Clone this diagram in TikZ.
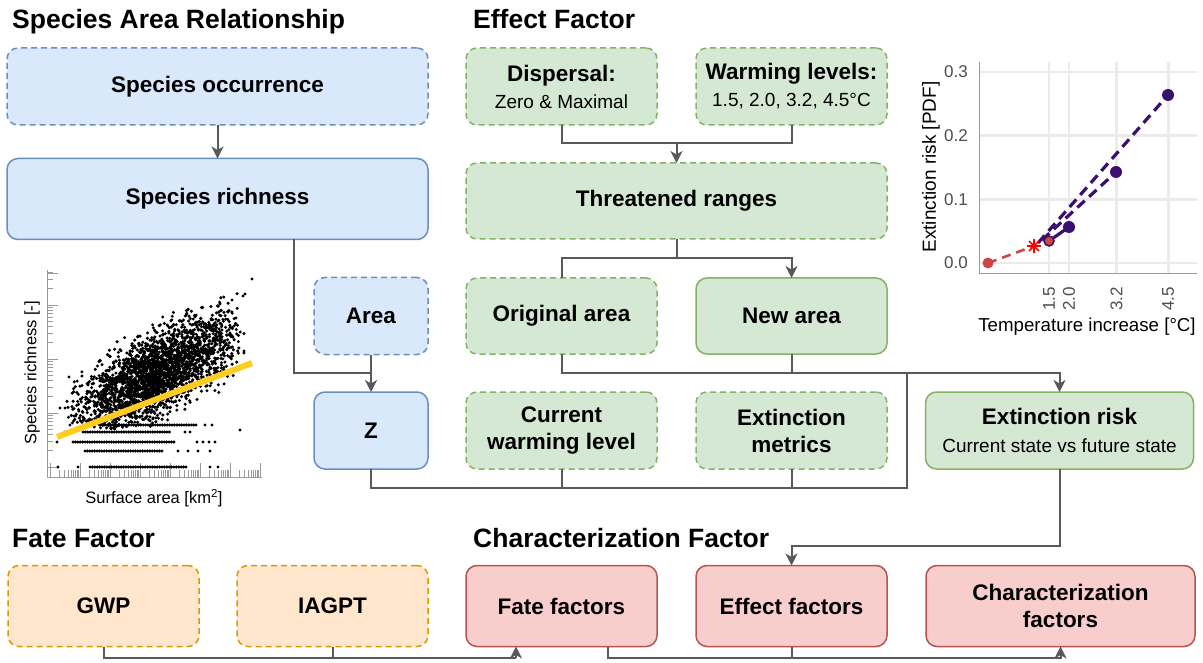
\documentclass[tikz,border=0pt]{standalone}
\usepackage{fontspec}
\setmainfont{Liberation Sans}
\usetikzlibrary{arrows.meta}
\definecolor{bfill}{HTML}{DAE8FC}\definecolor{bline}{HTML}{6C8EBF}
\definecolor{gfill}{HTML}{D5E8D4}\definecolor{gline}{HTML}{82B366}
\definecolor{ofill}{HTML}{FFE6CC}\definecolor{oline}{HTML}{D79B00}
\definecolor{rfill}{HTML}{F8CECC}\definecolor{rline}{HTML}{B85450}
\definecolor{cgray}{HTML}{595959}
\definecolor{gridc}{HTML}{EBEBEB}
\definecolor{tickc}{HTML}{4D4D4D}
\definecolor{vpurple}{HTML}{3B0F6F}
\definecolor{vred}{HTML}{CD4545}
\definecolor{sgold}{HTML}{FFCC22}
\definecolor{axc}{HTML}{9A9A9A}
\newcommand{\bxfont}{\fontsize{22.5}{27}\selectfont\bfseries}
\newcommand{\smfont}{\fontsize{19}{23}\selectfont\mdseries}
\newcommand{\ttlfont}{\fontsize{26.5}{30}\selectfont\bfseries}
\begin{document}
\begin{tikzpicture}[x=1pt,y=-1pt,
 box/.style={rounded corners=11pt, line width=1.5pt, inner sep=0pt, outer sep=0pt, align=center, font=\bxfont, text=black},
 dsh/.style={dash pattern=on 6pt off 4pt},
 bluebox/.style={box, fill=bfill, draw=bline},
 greenbox/.style={box, fill=gfill, draw=gline},
 orangebox/.style={box, fill=ofill, draw=oline},
 redbox/.style={box, fill=rfill, draw=rline},
 wide/.style={minimum width=421pt, minimum height=77pt},
 mid/.style={minimum width=191pt, minimum height=77pt},
 small/.style={minimum width=114pt, minimum height=77pt},
 big/.style={minimum width=268pt, minimum height=77pt},
 low/.style={minimum width=191pt, minimum height=81pt},
 lowbig/.style={minimum width=269pt, minimum height=81pt},
 conn/.style={draw=cgray, line width=2pt},
 arr/.style={conn, -{Stealth[length=12pt,width=12pt,inset=3.5pt]}},
 ttl/.style={anchor=base west, font=\ttlfont, inner sep=0pt},
 grd/.style={draw=gridc, line width=2.6pt},
 ytl/.style={anchor=east, font=\fontsize{17}{20}\selectfont, text=tickc, inner sep=0pt},
 xtl/.style={anchor=east, rotate=90, font=\fontsize{17}{20}\selectfont, text=tickc, inner sep=0pt},
 dot/.style={fill=black},
]
\useasboundingbox (0,0) rectangle (1203,663);
\fill[white] (0,0) rectangle (1203,663);

% ---------- titles
\node[ttl] (t1) at (12,29) {Species Area Relationship};
\node[ttl] (t2) at (473,29) {Effect Factor};
\node[ttl] (t3) at (12,547) {Fate Factor};
\node[ttl] (t4) at (473,547) {Characterization Factor};

% ---------- species area relationship
\node[bluebox, dsh, wide] (occ) at (217.5,86.5) {Species occurrence};
\node[bluebox, wide, minimum height=81pt] (rich) at (217.5,199) {Species richness};
\node[bluebox, dsh, small] (area) at (371,316) {Area};
\node[bluebox, small] (z) at (371,430.5) {Z};

% ---------- effect factor
\node[greenbox, dsh, mid] (disp) at (561.5,86.5) {Dispersal:\\{\smfont Zero \& Maximal}};
\node[greenbox, dsh, mid] (warm) at (791.5,86.5) {Warming levels:\\{\smfont 1.5, 2.0, 3.2, 4.5\textdegree C}};
\node[greenbox, dsh, wide, minimum height=76pt] (threat) at (676.5,201) {Threatened ranges};
\node[greenbox, dsh, mid, minimum height=76pt] (orig) at (561.5,316) {Original area};
\node[greenbox, mid, minimum height=76pt] (new) at (791.5,316) {New area};
\node[greenbox, dsh, mid] (cur) at (561.5,430.5) {Current\\warming level};
\node[greenbox, dsh, mid] (metr) at (791.5,430.5) {Extinction\\metrics};
\node[greenbox, big] (ext) at (1059.5,430.5) {Extinction risk\\[1pt]{\smfont Current state vs future state}};

% ---------- fate / characterization
\node[orangebox, dsh, low] (gwp) at (103.5,606) {GWP};
\node[orangebox, dsh, low] (iagpt) at (332.5,606) {IAGPT};
\node[redbox, low] (fate) at (561.5,606) {Fate factors};
\node[redbox, low] (eff) at (791.5,606) {Effect factors};
\node[redbox, lowbig] (char) at (1060.5,606) {Characterization\\factors};

% ---------- connectors
\draw[arr] (occ.south) -- (rich.north);
\coordinate (rx) at (294,373);
\draw[conn] (rich.south -| rx) |- (z.north |- rx);
\draw[arr] (area.south) -- (z.north);

\coordinate (j1) at (676.5,143);
\draw[conn] (disp.south) |- (j1);
\draw[conn] (warm.south) |- (j1);
\draw[arr] (j1) -- (threat.north);

\coordinate (j2) at (676.5,258);
\draw[conn] (threat.south) -- (j2);
\draw[conn] (j2) -| (orig.north);
\draw[arr] (j2) -| (new.north);

\coordinate (j3) at (907,373);
\coordinate (j4) at (907,488);
\draw[conn] (orig.south) |- (j3);
\draw[conn] (new.south) -- (new.south |- j3);
\draw[arr] (j3) -| (ext.north);
\draw[conn] (z.south) |- (j4) -- (j3);
\draw[conn] (cur.south) -- (cur.south |- j4);
\draw[conn] (metr.south) -- (metr.south |- j4);

\coordinate (j5) at (791.5,546);
\draw[arr] (ext.south) |- (j5) -- (eff.north);

\coordinate (j6) at (516,657.5);
\draw[conn] (gwp.south) |- (j6);
\draw[conn] (iagpt.south) -- (iagpt.south |- j6);
\draw[arr] (j6) -- (fate.south -| j6);
\coordinate (j7) at (608,657.5);
\draw[arr] (fate.south -| j7) |- (char.south |- j7) -- (char.south);
\draw[conn] (eff.south) -- (eff.south |- j7);

% ---------- scatter plot (species-area)
\draw[axc, line width=0.8pt] (47,270) -- (47,477) -- (262,477);
\foreach \m in {467,413,359,305}{
  \draw[axc, line width=0.8pt] (47,\m) -- (58,\m);
  \foreach \k in {2,...,9}{
    \pgfmathsetmacro{\ty}{\m-54*log10(\k)}
    \pgfmathtruncatemacro{\okk}{\ty>270}
    \ifnum\okk=1 \draw[axc, line width=0.6pt] (47,\ty) -- (53,\ty); \fi
  }
}
\draw[axc, line width=0.8pt] (47,273) -- (58,273);
\foreach \m in {50,80,110,140,170,200,230}{
  \draw[axc, line width=0.8pt] (\m,477) -- (\m,463);
  \foreach \k in {2,...,9}{
    \pgfmathsetmacro{\tx}{\m+30*log10(\k)}
    \draw[axc, line width=0.6pt] (\tx,477) -- (\tx,470);
  }
}
\draw[axc, line width=0.8pt] (260,477) -- (260,463);
\pgfmathsetseed{7}
\foreach \i in {1,...,2600}{
  \pgfmathsetmacro{\sx}{155+92*(rand+rand)/2}
  \pgfmathsetmacro{\sy}{417-0.5*(\sx-70)+20*(rand+rand+rand)}
  \pgfmathtruncatemacro{\ok}{and(\sy<429,\sy>272)}
  \ifnum\ok=1 \fill[dot] (\sx,\sy) circle[radius=1.7pt]; \fi
}
\foreach \ry/\xa/\xb in {425/100/197, 432/83/170, 442/73/175, 451/85/163, 467/90/187}{
  \foreach \k in {0,...,45}{
    \pgfmathsetmacro{\rx}{\xa+\k*2.4}
    \pgfmathtruncatemacro{\ok}{\rx<\xb}
    \ifnum\ok=1 \fill[dot] (\rx,\ry) circle[radius=1.7pt]; \fi
  }
}
\foreach \px/\py in {197/442,203/442,209/442,215/442,178/451,188/451,198/451,210/451,58/467,78/467,210/467,218/467,57/442,65/432,70/425,185/432,190/432,205/425,212/425,252/279,245/294,243/296,228/312,232/300,236/318,222/330,69/377,60/408,65/408,240/430}{
  \fill[dot] (\px,\py) circle[radius=1.7pt];
}
\draw[sgold, line width=6pt] (57,437) -- (252,363);
\node[rotate=90, font=\fontsize{16.5}{20}\selectfont, inner sep=0pt] (sylab) at (32,373) {Species richness [-]};
\node[font=\fontsize{16.5}{20}\selectfont, inner sep=0pt] (sxlab) at (154,498) {Surface area [km\textsuperscript{2}]};

% ---------- extinction risk chart
\foreach \gy in {263,199.3,135.7,72}{ \draw[grd] (979,\gy) -- (1197,\gy); }
\foreach \gx in {1049.05,1068.9,1116.5,1168.2}{ \draw[grd] (\gx,62) -- (\gx,273); }
\draw[axc, line width=0.8pt] (979,62) -- (979,273) -- (1197,273);
\node[ytl] (y0) at (968,263) {0.0};
\node[ytl] (y1) at (968,199.3) {0.1};
\node[ytl] (y2) at (968,135.7) {0.2};
\node[ytl] (y3) at (968,72) {0.3};
\node[xtl] (x1) at (1049.05,287) {1.5};
\node[xtl] (x2) at (1068.9,287) {2.0};
\node[xtl] (x3) at (1116.5,287) {3.2};
\node[xtl] (x4) at (1168.2,287) {4.5};
\node[rotate=90, font=\fontsize{19}{22}\selectfont, inner sep=0pt] (cyl) at (931,167) {Extinction risk [PDF]};
\node[font=\fontsize{18.7}{22}\selectfont, inner sep=0pt] (cxl) at (1087,327) {Temperature increase [\textdegree C]};
\draw[vred, line width=2.6pt, dash pattern=on 9pt off 6pt] (988,263) -- (1034,246);
\draw[vpurple, line width=3.2pt, dash pattern=on 10pt off 6pt] (1038,243) -- (1168,95);
\draw[vpurple, line width=3.2pt, dash pattern=on 10pt off 6pt] (1042,240) -- (1116,172);
\draw[vpurple, line width=3.2pt] (1049,241) -- (1069,227);
\fill[vred] (988,263) circle[radius=5.5pt];
\foreach \a in {0,45,90,135}{ \draw[red, line width=1.6pt] (1034,246) ++(\a:7pt) -- ++(\a+180:14pt); }
\fill[vpurple] (1069,227) circle[radius=6pt];
\fill[vpurple] (1116,172) circle[radius=6pt];
\fill[vpurple] (1168,95) circle[radius=6pt];
\filldraw[fill=vred, draw=vpurple, line width=1.5pt] (1049,241) circle[radius=5pt];
\end{tikzpicture}
\end{document}
